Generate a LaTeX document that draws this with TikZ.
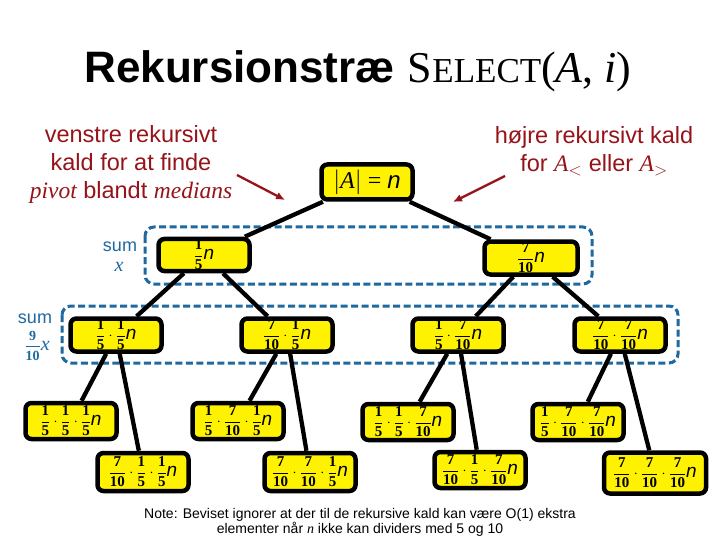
\documentclass[tikz,border=0pt]{standalone}
\usepackage{fontspec}
\setmainfont{Liberation Serif}
\setsansfont{Liberation Sans}
\usetikzlibrary{arrows.meta}
\definecolor{tred}{RGB}{150,20,25}
\definecolor{tblue}{RGB}{30,105,160}
\newcommand{\nn}{{\sffamily\itshape\fontsize{19}{19}\selectfont n}}
\newcommand{\fr}[2]{\displaystyle\frac{\mathbf{#1}\rule[-2pt]{0pt}{2pt}}{\rule{0pt}{12.5pt}\mathbf{#2}}}
\tikzset{
  tbox/.style={draw=black, line width=4.5pt, fill=yellow, rounded corners=6pt,
    minimum width=91pt, minimum height=33pt, inner sep=1pt,
    font=\fontsize{15}{16}\selectfont},
  tall/.style={minimum height=36pt},
  edge/.style={draw=black, line width=4.3pt},
  sumbox/.style={draw=tblue, line width=3pt, dash pattern=on 7pt off 3.5pt, rounded corners=9pt},
  sumlbl/.style={text=tblue, inner sep=0pt},
  redtxt/.style={text=tred, inner sep=0pt, align=center, font=\sffamily\fontsize{23.5}{28}\selectfont},
  redarrow/.style={draw=tred, line width=2.3pt, -{Latex[length=9pt,width=8pt]}}
}
\begin{document}
\begin{tikzpicture}[x=1pt,y=-1pt]
\useasboundingbox[fill=white] (0,0) rectangle (720,540);
% title
\node[anchor=base, inner sep=0pt] (title) at (358,83)
  {{\sffamily\bfseries\fontsize{44}{44}\selectfont Rekursionstræ}\hspace{13pt}{\fontsize{44}{44}\selectfont S{\fontsize{35}{35}\selectfont ELECT}(\textit{A}, \textit{i})}};
% red texts
\node[redtxt] (lefttxt) at (131,164)
  {venstre rekursivt\\kald for at finde\\{\rmfamily\itshape pivot} blandt {\rmfamily\itshape medians}};
\node[redtxt] (righttxt) at (594,151)
  {højre rekursivt kald\\for {\rmfamily\itshape A}$_<$ eller {\rmfamily\itshape A}$_>$};
\coordinate (la) at (237,175);
\coordinate (lb) at (285,200);
\coordinate (ra) at (505,176);
\coordinate (rb) at (453,202);
\draw[redarrow] (la) -- (lb);
\draw[redarrow] (ra) -- (rb);
% dashed sum boxes
\draw[sumbox] (145,227) rectangle (592,284);
\draw[sumbox] (62,306) rectangle (678,363);
\node[sumlbl, font=\sffamily\fontsize{18}{18}\selectfont] (s1) at (120,247) {sum};
\node[sumlbl, font=\fontsize{20}{20}\selectfont] (x1) at (119,267) {\textit{x}};
\node[sumlbl, font=\sffamily\fontsize{18}{18}\selectfont] (s2) at (35,319) {sum};
\node[sumlbl, font=\fontsize{14}{15}\selectfont] (x2) at (37,346) {$\fr{9}{10}$\fontsize{20}{20}\selectfont\textit{x}};
% tree nodes
\node[tbox, minimum height=35pt, font=\fontsize{24}{24}\selectfont] (root) at (367,182) {$|$\textit{A}$|$ = {\sffamily\itshape n}};
\node[tbox, minimum height=32pt] (L1) at (204,255) {$\fr15$\nn};
\node[tbox, minimum width=93pt] (R1) at (531,258) {$\fr{7}{10}$\nn};
\node[tbox] (LL) at (116,335) {$\fr15\cdot\fr15$\nn};
\node[tbox] (LR) at (287,335) {$\fr{7}{10}\cdot\fr15$\nn};
\node[tbox] (RL) at (458,335) {$\fr15\cdot\fr{7}{10}$\nn};
\node[tbox] (RR) at (620,335) {$\fr{7}{10}\cdot\fr{7}{10}$\nn};
\node[tbox, tall] (LLL) at (71,421) {$\fr15\cdot\fr15\cdot\fr15$\nn};
\node[tbox, tall, minimum height=38pt] (LLR) at (143,472) {$\fr{7}{10}\cdot\fr15\cdot\fr15$\nn};
\node[tbox, tall] (LRL) at (238,421) {$\fr15\cdot\fr{7}{10}\cdot\fr15$\nn};
\node[tbox, tall, minimum height=38pt] (LRR) at (310,472) {$\fr{7}{10}\cdot\fr{7}{10}\cdot\fr15$\nn};
\node[tbox, tall] (RLL) at (408,422) {$\fr15\cdot\fr15\cdot\fr{7}{10}$\nn};
\node[tbox, tall] (RLR) at (480,470) {$\fr{7}{10}\cdot\fr15\cdot\fr{7}{10}$\nn};
\node[tbox, tall] (RRL) at (578,422) {$\fr15\cdot\fr{7}{10}\cdot\fr{7}{10}$\nn};
\node[tbox, minimum width=102pt, minimum height=41pt] (RRR) at (655,473) {$\fr{7}{10}\cdot\fr{7}{10}\cdot\fr{7}{10}$\nn};
% edges
\draw[edge] (root) -- (L1);
\draw[edge] (root) -- (R1);
\draw[edge] (L1) -- (LL);
\draw[edge] (L1) -- (LR);
\draw[edge] (R1) -- (RL);
\draw[edge] (R1) -- (RR);
\draw[edge] (LL) -- (LLL);
\draw[edge] (LL) -- (LLR);
\draw[edge] (LR) -- (LRL);
\draw[edge] (LR) -- (LRR);
\draw[edge] (RL) -- (RLL);
\draw[edge] (RL) -- (RLR);
\draw[edge] (RR) -- (RRL);
\draw[edge] (RR) -- (RRR);
% note
\node[inner sep=0pt, align=center, font=\sffamily\fontsize{14}{15}\selectfont] (note) at (360,522)
  {Note: Beviset ignorer at der til de rekursive kald kan være O(1) ekstra\\elementer når {\rmfamily\itshape n} ikke kan dividers med 5 og 10};
\end{tikzpicture}
\end{document}
